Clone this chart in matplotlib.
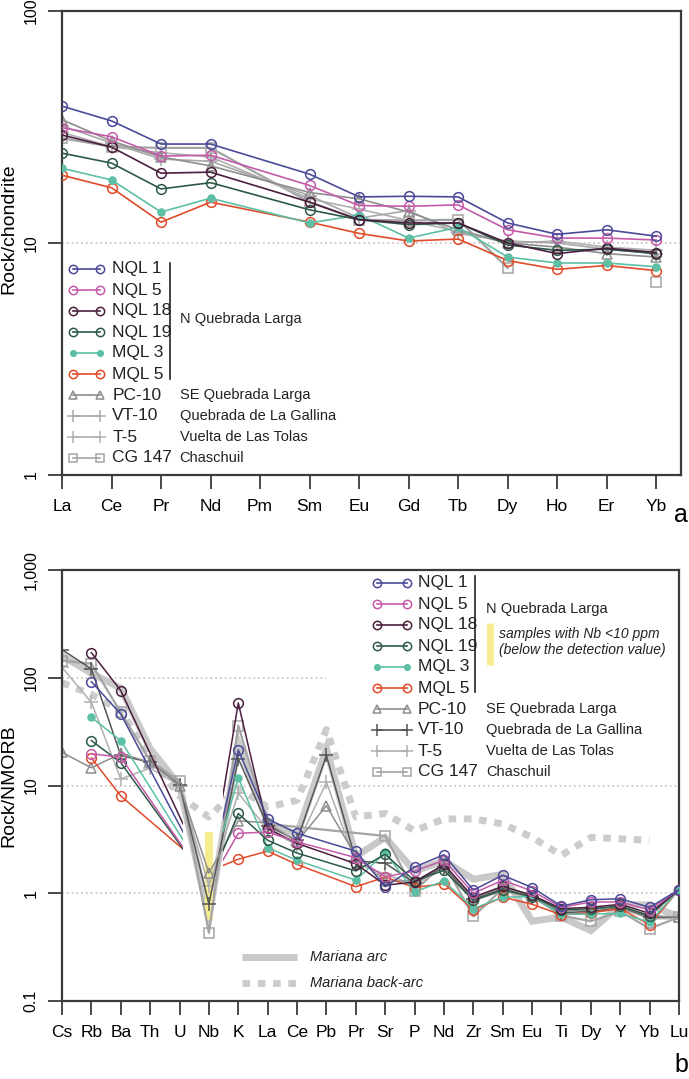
import numpy as np
import matplotlib
matplotlib.use("Agg")
import matplotlib.pyplot as plt
from matplotlib.ticker import NullLocator
from matplotlib.transforms import Bbox, TransformedBbox

nan = np.nan

# ---------------- data: a) chondrite-normalised REE ----------------
ree = ["La", "Ce", "Pr", "Nd", "Pm", "Sm", "Eu", "Gd", "Tb", "Dy", "Ho", "Er", "Yb"]

nql1 = [38.9, 33.6, 26.7, 26.7, nan, 19.8, 15.8, 15.9, 15.8, 12.2, 10.9, 11.4, 10.7]
nql5 = [31.4, 28.7, 23.7, 23.9, nan, 17.7, 14.5, 14.4, 14.6, 11.4, 10.5, 10.5, 10.3]
nql18 = [29.2, 25.9, 20.0, 20.2, nan, 15.0, 12.6, 12.2, 12.2, 10.0, 9.0, 9.5, 9.1]
nql19 = [24.4, 22.1, 17.1, 18.2, nan, 13.9, 12.6, 12.0, 12.2, 9.8, 9.3, 9.4, 9.0]
mql3 = [21.0, 18.7, 13.6, 15.6, nan, 12.2, 13.2, 10.5, 11.7, 8.7, 8.2, 8.2, 7.9]
mql5 = [19.6, 17.3, 12.3, 15.0, nan, 12.3, 11.0, 10.2, 10.4, 8.4, 7.7, 8.0, 7.6]
pc10 = [34.0, 27.5, 23.5, 21.5, nan, 16.5, 15.5, 13.6, 11.4, 10.0, 9.6, 9.0, 8.7]
vt10 = [32.0, 27.0, 23.0, 22.5, nan, 16.0, 12.8, 13.8, 11.0, 10.2, 10.0, 9.4, 9.0]
t5 = [30.0, 26.0, 24.5, 23.5, nan, 15.5, 14.0, 12.5, 11.2, 10.0, 10.2, 9.6, 9.3]
cg147 = [28.3, 26.0, 25.7, 25.7, nan, 15.0, 12.6, 12.5, 12.6, 7.8, nan, nan, 6.8]

# ---------------- data: b) NMORB-normalised spider ----------------
spider = ["Cs", "Rb", "Ba", "Th", "U", "Nb", "K", "La", "Ce", "Pb", "Pr", "Sr",
          "P", "Nd", "Zr", "Sm", "Eu", "Ti", "Dy", "Y", "Yb", "Lu"]

nql1_n = [nan, 92, 46, nan, nan, 1.3, 21.4, 4.9, 3.6, nan, 2.46, 1.15, 1.75, 2.28, 1.07, 1.47, 1.13, 0.76, 0.87, 0.89, 0.74, 1.08]
nql5_n = [nan, 19.7, 18.3, nan, nan, 1.2, 3.6, 3.7, 3.0, nan, 2.14, 1.42, 1.61, 2.02, 1.0, 1.32, 1.05, 0.74, 0.83, 0.83, 0.70, 1.08]
nql18_n = [nan, 171, 76, nan, nan, 1.35, 58.3, 4.0, 2.9, nan, 1.88, 1.19, 1.27, 1.85, 0.92, 1.16, 0.96, 0.72, 0.74, 0.79, 0.65, 1.08]
nql19_n = [nan, 26.1, 16.3, nan, nan, 1.2, 5.5, 3.1, 2.36, nan, 1.61, 2.3, 1.3, 1.63, 0.86, 1.07, 0.93, 0.70, 0.72, 0.76, 0.62, 1.08]
mql3_n = [nan, 42.9, 26.1, nan, nan, 1.3, 11.8, 2.65, 2.02, nan, 1.32, 2.39, 1.03, 1.30, 0.72, 0.92, 0.93, 0.64, 0.64, 0.65, 0.54, 1.08]
mql5_n = [nan, 18.0, 8.0, nan, nan, 1.6, 2.07, 2.46, 1.85, nan, 1.15, 1.41, 1.13, 1.23, 0.70, 0.92, 0.79, 0.63, 0.66, 0.72, 0.51, 1.08]
pc10_n = [20.3, 14.6, 19.8, 16.4, 10.0, 1.54, 4.7, 4.5, 3.0, 6.5, 2.2, 1.3, 1.3, 1.8, 0.9, 1.15, 0.95, 0.68, 0.70, 0.75, 0.62, 0.60]
vt10_n = [182, 121, 19.0, 16.4, 10.2, 0.79, 17.8, 4.2, 3.1, 19.0, 2.0, 1.9, 1.25, 1.75, 0.88, 1.1, 0.92, 0.66, 0.68, 0.74, 0.60, 0.60]
t5_n = [125, 59, 11.5, 14.5, 10.0, 1.16, 8.5, 3.9, 2.8, 10.7, 1.9, 1.5, 1.2, 1.7, 0.85, 1.05, 0.9, 0.65, 0.66, 0.72, 0.58, 0.58]
cg147_n = [144, 135, 47.6, 17.0, 11.0, 0.43, 36, 4.4, nan, nan, nan, 3.4, 1.05, 1.9, 0.61, 1.1, 0.95, 0.62, 0.55, 0.68, 0.47, 0.60]

mariana_arc = [160, 110, 80, 22, 10, 0.6, 25, 4.5, 3.5, 22, 2.2, 3.3, 1.6, 2.0, 1.35, 1.5, 0.55, 0.6, 0.45, 0.78, 0.78, 0.6]
mariana_backarc = [90, 70, 50, 18, 8, 5.1, 9.5, 6.3, 7.3, 33, 5.1, 5.5, 3.8, 4.9, 4.9, 4.4, 3.3, 2.25, 3.3, 3.2, 3.1, nan]

# Nb below detection: yellow bar range and the gap in the N Quebrada Larga lines
nb_bar_low, nb_bar_high = 0.56, 3.7
nb_gap = (4.13, 5.47)

samples_main = ["NQL 1", "NQL 5", "NQL 18", "NQL 19", "MQL 3", "MQL 5"]
samples_other = ["PC-10", "VT-10", "T-5", "CG 147"]
other_groups = ["SE Quebrada Larga", "Quebrada de La Gallina", "Vuelta de Las Tolas", "Chaschuil"]

style = {
    "NQL 1": dict(color="#4a4a98", marker="o", mfc="none", ms=7),
    "NQL 5": dict(color="#c45aa8", marker="o", mfc="none", ms=7),
    "NQL 18": dict(color="#4a1f3e", marker="o", mfc="none", ms=7),
    "NQL 19": dict(color="#2d5a46", marker="o", mfc="none", ms=7),
    "MQL 3": dict(color="#5cbfa6", marker="o", mfc="#5cbfa6", ms=5),
    "MQL 5": dict(color="#e04b2a", marker="o", mfc="none", ms=7),
    "PC-10": dict(color="#8e8e8e", marker="^", mfc="none", ms=7),
    "VT-10": dict(color="#a8a8a8", marker="+", mfc="none", ms=10),
    "T-5": dict(color="#b0b0b0", marker="+", mfc="none", ms=10),
    "CG 147": dict(color="#a4a4a4", marker="s", mfc="none", ms=7),
}
vt10_dark = "#555555"

plt.rcParams['font.family'] = ['Liberation Sans', 'DejaVu Sans']
dotcol = "#d6c4c4"
spinecol = "#3a3a3a"

fig = plt.figure(figsize=(6.89, 10.79), dpi=100)
ax1 = fig.add_axes([62 / 689, 1 - 475 / 1079, 619 / 689, 464 / 1079])
ax2 = fig.add_axes([62 / 689, 1 - 1001 / 1079, 617 / 689, 431 / 1079])


def style_axes(ax, labels, yt, ytl):
    ax.set_yscale("log")
    ax.yaxis.set_minor_locator(NullLocator())
    ax.set_yticks(yt)
    ax.set_yticklabels(ytl, rotation=90, va="center", fontsize=11.5)
    ax.set_xticks(range(len(labels)))
    ax.set_xticklabels(labels, fontsize=12.5)
    ax.tick_params(direction="out", length=10, width=1.3, color=spinecol, pad=7)
    for s in ax.spines.values():
        s.set_linewidth(1.6)
        s.set_color(spinecol)


def key(ax, y, name, x0, x1, xt, color=None):
    st = dict(style[name])
    if color:
        st["color"] = color
    ax.plot([x0, x1], [y, y], transform=ax.transAxes, clip_on=False, lw=1.2,
            color=st["color"], marker=st["marker"], mfc=st["mfc"],
            mec=st["color"], ms=st["ms"] - 1, mew=1.1)
    ax.text(xt, y, name, transform=ax.transAxes, va="center", ha="left",
            fontsize=12.5, color="#222222")


# ---------------- panel a ----------------
x_ree = np.arange(len(ree))
keep = np.array([r != "Pm" for r in ree])
top_data = dict(zip(samples_main + samples_other,
                    [nql1, nql5, nql18, nql19, mql3, mql5, pc10, vt10, t5, cg147]))
ax1.axhline(10, color=dotcol, ls=":", lw=1.3, zorder=0)
for name in samples_other[::-1] + samples_main[::-1]:
    st = style[name]
    v = np.array(top_data[name])
    lw = 1.6 if name == "CG 147" else 1.2
    ax1.plot(x_ree[keep], v[keep], color=st["color"], lw=lw, marker=st["marker"],
             mfc=st["mfc"], mec=st["color"], ms=st["ms"], mew=1.1,
             zorder=3 if name in samples_main else 2)
ax1.set_xlim(0, 12.5)
ax1.set_ylim(1, 100)
style_axes(ax1, ree, [1, 10, 100], ["1", "10", "100"])
ax1.set_ylabel("Rock/chondrite", fontsize=14)
ax1.yaxis.set_label_coords(-0.072, 0.53)

rows = [(475 - (269 + 21 * i)) / 464 for i in range(10)]
for i, name in enumerate(samples_main + samples_other):
    key(ax1, rows[i], name, 0.017, 0.061, 0.081)
ax1.plot([0.174, 0.174], [(475 - 263) / 464, (475 - 379) / 464], transform=ax1.transAxes,
         color="#222222", lw=1.2)
ax1.text(0.19, (475 - 319) / 464, "N Quebrada Larga", transform=ax1.transAxes,
         va="center", fontsize=10.5, color="#222222")
for i, g in enumerate(other_groups):
    ax1.text(0.19, rows[6 + i], g, transform=ax1.transAxes, va="center",
             fontsize=10.5, color="#222222")

# ---------------- panel b ----------------
x_sp = np.arange(len(spider))
bot_data = dict(zip(samples_main + samples_other,
                    [nql1_n, nql5_n, nql18_n, nql19_n, mql3_n, mql5_n, pc10_n, vt10_n, t5_n, cg147_n]))
ax2.plot([0, spider.index("Pb")], [100, 100], color=dotcol, ls=":", lw=1.3, zorder=0)
ax2.axhline(10, color=dotcol, ls=":", lw=1.3, zorder=0)
ax2.axhline(1, color=dotcol, ls=":", lw=1.3, zorder=0)

arc = np.array(mariana_arc)
ax2.plot(x_sp, arc, color="#c9c9c9", lw=5, solid_joinstyle="miter", zorder=1)
bak = np.array(mariana_backarc)
m = ~np.isnan(bak)
ax2.plot(x_sp[m], bak[m], color="#cccccc", lw=5, ls=(0, (1.1, 1.1)),
         dash_capstyle="butt", zorder=1)

nb = spider.index("Nb")
ax2.bar(nb, nb_bar_high - nb_bar_low, bottom=nb_bar_low, width=0.27,
        color="#f6ee8e", zorder=1.5)

left_box = TransformedBbox(Bbox([[0, 0], [nb_gap[0], 1]]), ax2.get_xaxis_transform())
right_box = TransformedBbox(Bbox([[nb_gap[1], 0], [21, 1]]), ax2.get_xaxis_transform())

for name in samples_other[::-1] + samples_main[::-1]:
    st = style[name]
    col = vt10_dark if name == "VT-10" else st["color"]
    v = np.array(bot_data[name])
    m = ~np.isnan(v)
    lw = 1.6 if name == "CG 147" else 1.1
    kw = dict(color=col, lw=lw, marker=st["marker"], mfc=st["mfc"], mec=col,
              ms=st["ms"], mew=1.1)
    if name in samples_main:
        for box in (left_box, right_box):
            ln, = ax2.plot(x_sp[m], v[m], zorder=3, **kw)
            ln.set_clip_box(box)
    else:
        ax2.plot(x_sp[m], v[m], zorder=2, **kw)

ax2.set_xlim(0, 21)
ax2.set_ylim(0.1, 1000)
style_axes(ax2, spider, [0.1, 1, 10, 100, 1000], ["0.1", "1", "10", "100", "1,000"])
ax2.set_ylabel("Rock/NMORB", fontsize=14)
ax2.yaxis.set_label_coords(-0.072, 0.5)

rows2 = [(1001 - (583 + 21 * i)) / 431 for i in range(10)]
for i, name in enumerate(samples_main + samples_other):
    key(ax2, rows2[i], name, 0.511, 0.559, 0.577,
        color=vt10_dark if name == "VT-10" else None)
ax2.plot([0.670, 0.670], [(1001 - 576) / 431, (1001 - 692) / 431], transform=ax2.transAxes,
         color="#222222", lw=1.2)
ax2.text(0.687, (1001 - 609) / 431, "N Quebrada Larga", transform=ax2.transAxes,
         va="center", fontsize=10.5, color="#222222")
ax2.plot([0.693, 0.693], [(1001 - 623) / 431, (1001 - 665) / 431], transform=ax2.transAxes,
         color="#f6ee8e", lw=5, solid_capstyle="butt")
ax2.text(0.708, (1001 - 642) / 431, "samples with Nb <10 ppm\n(below the detection value)",
         transform=ax2.transAxes, va="center", fontsize=10, style="italic",
         color="#222222", linespacing=1.1)
for i, g in enumerate(other_groups):
    ax2.text(0.687, rows2[6 + i], g, transform=ax2.transAxes, va="center",
             fontsize=10.5, color="#222222")

ya, yb = (1001 - 957) / 431, (1001 - 983) / 431
ax2.plot([0.291, 0.381], [ya, ya], transform=ax2.transAxes, color="#c9c9c9", lw=5,
         solid_capstyle="butt")
ax2.plot([0.291, 0.381], [yb, yb], transform=ax2.transAxes, color="#cccccc", lw=5,
         ls=(0, (1.1, 1.1)), dash_capstyle="butt")
ax2.text(0.402, ya, "Mariana arc", transform=ax2.transAxes, va="center",
         fontsize=10.5, style="italic", color="#222222")
ax2.text(0.402, yb, "Mariana back-arc", transform=ax2.transAxes, va="center",
         fontsize=10.5, style="italic", color="#222222")

fig.text(674 / 689, 1 - 515 / 1079, "a", fontsize=18, ha="left", va="center")
fig.text(674 / 689, 1 - 1065 / 1079, "b", fontsize=18, ha="left", va="center")

fig.savefig("out.png", dpi=100)
